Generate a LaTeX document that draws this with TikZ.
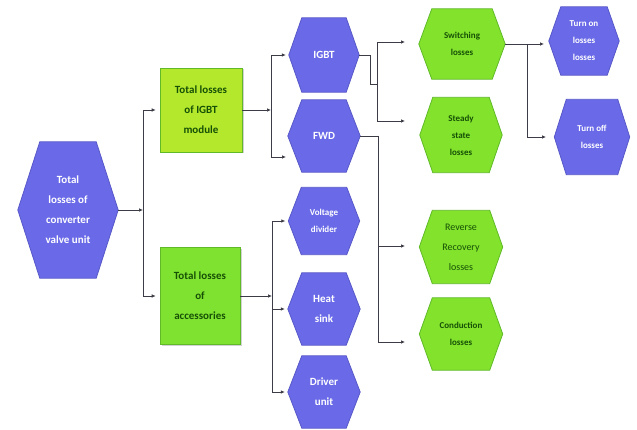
\documentclass[tikz,border=0pt]{standalone}
\usepackage{fontspec}
\setmainfont{Carlito}
\usetikzlibrary{arrows.meta,shadows}
\pgfdeclarelayer{background}
\pgfsetlayers{background,main}
\definecolor{hexblue}{RGB}{106,106,232}
\definecolor{hexblueedge}{RGB}{88,88,200}
\definecolor{hexgreen}{RGB}{130,226,44}
\definecolor{hexgreenedge}{RGB}{96,186,40}
\definecolor{rectyg}{RGB}{180,232,44}
\definecolor{rectg}{RGB}{128,226,48}
\definecolor{darkgreentext}{RGB}{22,80,6}
\definecolor{conncol}{RGB}{60,60,70}
\newcommand{\hexshape}[3]{\path[#3] (#1.west) -- ([xshift=#2]#1.north west) -- ([xshift=-#2]#1.north east) -- (#1.east) -- ([xshift=-#2]#1.south east) -- ([xshift=#2]#1.south west) -- cycle;}
\tikzset{
  hexnode/.style 2 args={inner sep=0pt, minimum width=#1, minimum height=#2, align=center},
  bluetext/.style={text=white},
  greentext/.style={text=darkgreentext},
  bigfont/.style={font=\fontsize{11}{20}\selectfont\bfseries},
  smallfont/.style={font=\fontsize{9}{17}\selectfont\bfseries},
  midfont/.style={font=\fontsize{10}{20}\selectfont},
  bluehex/.style={fill=hexblue, draw=hexblueedge, line width=0.8pt},
  greenhex/.style={fill=hexgreen, draw=hexgreenedge, line width=0.8pt},
  boxnode/.style={inner sep=0pt, align=center, text=darkgreentext, draw=hexgreenedge, line width=0.6pt,
    drop shadow={shadow xshift=1.5pt, shadow yshift=-1.5pt, opacity=0.35}},
  conn/.style={draw=conncol, line width=0.7pt, -{Latex[length=4pt,width=3.5pt]}},
  plain/.style={draw=conncol, line width=0.7pt}
}
\begin{document}
\begin{tikzpicture}[x=1pt,y=-1pt]
\useasboundingbox (0,0) rectangle (637,430);

% hexagon text nodes
\node[hexnode={100pt}{136pt}, bluetext, bigfont] (main) at (68,210) {Total\\losses of\\converter\\valve unit};
\node[hexnode={70pt}{74pt}, bluetext, bigfont] (igbt) at (324,55) {IGBT};
\node[hexnode={72pt}{72pt}, bluetext, bigfont] (fwd) at (324,136) {FWD};
\node[hexnode={71pt}{67pt}, bluetext, smallfont] (vd) at (324,221) {Voltage\\divider};
\node[hexnode={72pt}{72pt}, bluetext, bigfont] (hs) at (324,309) {Heat\\sink};
\node[hexnode={72pt}{72pt}, bluetext, bigfont] (dr) at (324,392) {Driver\\unit};
\node[hexnode={86pt}{70pt}, greentext, smallfont] (sw) at (462,44) {Switching\\losses};
\node[hexnode={82pt}{75pt}, greentext, smallfont] (ss) at (461,135) {Steady\\state\\losses};
\node[hexnode={83pt}{73pt}, greentext, midfont] (rr) at (461,247) {Reverse\\Recovery\\losses};
\node[hexnode={83pt}{72pt}, greentext, smallfont] (cd) at (461,334) {Conduction\\losses};
\node[hexnode={70pt}{68pt}, bluetext, smallfont] (ton) at (584,41) {Turn on\\losses\\losses};
\node[hexnode={75pt}{75pt}, bluetext, smallfont] (toff) at (592,137) {Turn off\\losses};

% rectangles
\node[boxnode, fill=rectyg, minimum width=82pt, minimum height=84pt, bigfont] (r1) at (201,110) {Total losses\\of IGBT\\module};
\node[boxnode, fill=rectg, minimum width=80pt, minimum height=97pt, bigfont] (r2) at (200,296) {Total losses\\of\\accessories};

\begin{pgfonlayer}{background}
\fill[white] (0,0) rectangle (637,430);
\hexshape{main}{22pt}{bluehex}
\hexshape{igbt}{13pt}{bluehex}
\hexshape{fwd}{14pt}{bluehex}
\hexshape{vd}{13pt}{bluehex}
\hexshape{hs}{14pt}{bluehex}
\hexshape{dr}{14pt}{bluehex}
\hexshape{sw}{13pt}{greenhex}
\hexshape{ss}{13pt}{greenhex}
\hexshape{rr}{13pt}{greenhex}
\hexshape{cd}{13pt}{greenhex}
\hexshape{ton}{12pt}{bluehex}
\hexshape{toff}{12pt}{bluehex}
\end{pgfonlayer}

% junction coordinates
\coordinate (c1) at (143,210);
\coordinate (c2) at (271,110);
\coordinate (c3) at (272,296);
\coordinate (fwdin) at (286,157);
\coordinate (k0) at (370,84);
\coordinate (k1) at (377,84);
\coordinate (swin) at (405,42);
\coordinate (ssin) at (405,121);
\coordinate (k2) at (378,136);
\coordinate (rrin) at (405,246);
\coordinate (cdin) at (405,342);
\coordinate (k4) at (527,44);
\coordinate (tonin) at (544,44);
\coordinate (toffin) at (546,137);

% connectors
\draw[conn] (main.east) -- (c1);
\draw[conn, shorten >=4pt] (c1) |- (r1.west);
\draw[conn, shorten >=4pt] (c1) |- (r2.west);
\draw[conn] (r1.east) -- (c2);
\draw[conn, shorten >=3pt] (c2) |- (igbt.west);
\draw[conn] (c2) |- (fwdin);
\draw[conn] (r2.east) -- (c3);
\draw[conn, shorten >=3pt] (c3) |- (vd.west);
\draw[conn, shorten >=3pt] (c3) |- (hs.west);
\draw[conn, shorten >=3pt] (c3) |- (dr.west);
\draw[plain] (igbt.east) -| (k0) -- (k1);
\draw[conn] (k1) |- (swin);
\draw[conn] (k1) |- (ssin);
\draw[conn] (fwd.east) -- (k2) |- (rrin);
\draw[conn] (k2) |- (cdin);
\draw[conn] (sw.east) -- (tonin);
\draw[conn] (k4) |- (toffin);
\end{tikzpicture}
\end{document}
